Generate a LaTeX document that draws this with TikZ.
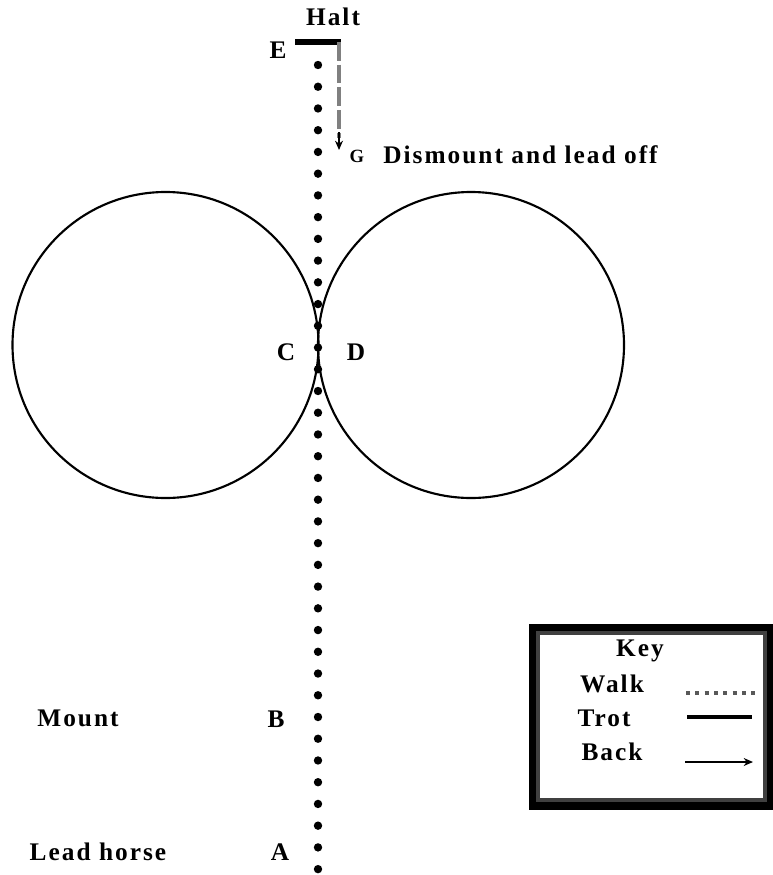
\documentclass[tikz,border=0pt]{standalone}
\usepackage{fontspec}
\setmainfont{Liberation Serif}
\usetikzlibrary{arrows.meta}
\begin{document}
\begin{tikzpicture}[x=0.75pt,y=-0.75pt,
  lbl/.style={font=\bfseries\fontsize{19}{22}\selectfont\addfontfeature{LetterSpace=8}, inner sep=0pt},
  walkline/.style={line width=6.3pt, line cap=round, dash pattern=on 0pt off 16.3pt},
  ring/.style={circle, draw, line width=1.6pt, minimum size=229.5pt, inner sep=0pt}]
\useasboundingbox (0,0) rectangle (772,875);
% circles
\node[ring] (lc) at (165.5,345) {};
\node[ring] (rc) at (471,345) {};
% walk line
\coordinate (top) at (318,65);
\coordinate (bot) at (318,875);
\draw[walkline] (top) -- (bot);
% halt bar and back
\coordinate (hl) at (295,42);
\coordinate (hr) at (341,42);
\coordinate (gp) at (339,150);
\draw[line width=4.5pt] (hl) -- (hr);
\draw[gray, line width=3pt, dash pattern=on 14pt off 3pt] (339,42) -- (339,138);
\draw[-{Stealth[length=7pt,width=6pt]}, line width=1pt] (339,132) -- (gp);
% labels
\node[lbl] (halt) at (333,17) {Halt};
\node[lbl, font=\bfseries\fontsize{14}{16}\selectfont] (G) at (357,156) {G};
\node[lbl] (E) at (278,50) {E};
\node[lbl, anchor=west] (dis) at (383,155) {Dismount and lead off};
\node[lbl] (C) at (286,352) {C};
\node[lbl] (D) at (356,352) {D};
\node[lbl] (mount) at (78,718) {Mount};
\node[lbl] (B) at (276,719) {B};
\node[lbl] (lead) at (98,852) {Lead horse};
\node[lbl] (A) at (280,852) {A};
% key box
\draw[line width=6pt] (533,628) rectangle (769,806);
\draw[black!75, line width=3pt] (538,633) rectangle (765,800);
\node[lbl] (key) at (640,651) {Key};
\node[lbl] (walk) at (612,684) {Walk};
\node[lbl] (trot) at (604,718) {Trot};
\node[lbl] (back) at (612,752) {Back};
\coordinate (w1) at (686,693);
\coordinate (w2) at (755,693);
\coordinate (t1) at (687,717);
\coordinate (t2) at (752,717);
\coordinate (b1) at (685,762);
\coordinate (b2) at (753,762);
\draw[black!65, line width=2.5pt, dash pattern=on 3pt off 4pt] (w1) -- (w2);
\draw[line width=2.5pt] (t1) -- (t2);
\draw[-{Stealth[length=7pt,width=6pt]}, line width=1pt] (b1) -- (b2);
\end{tikzpicture}
\end{document}
